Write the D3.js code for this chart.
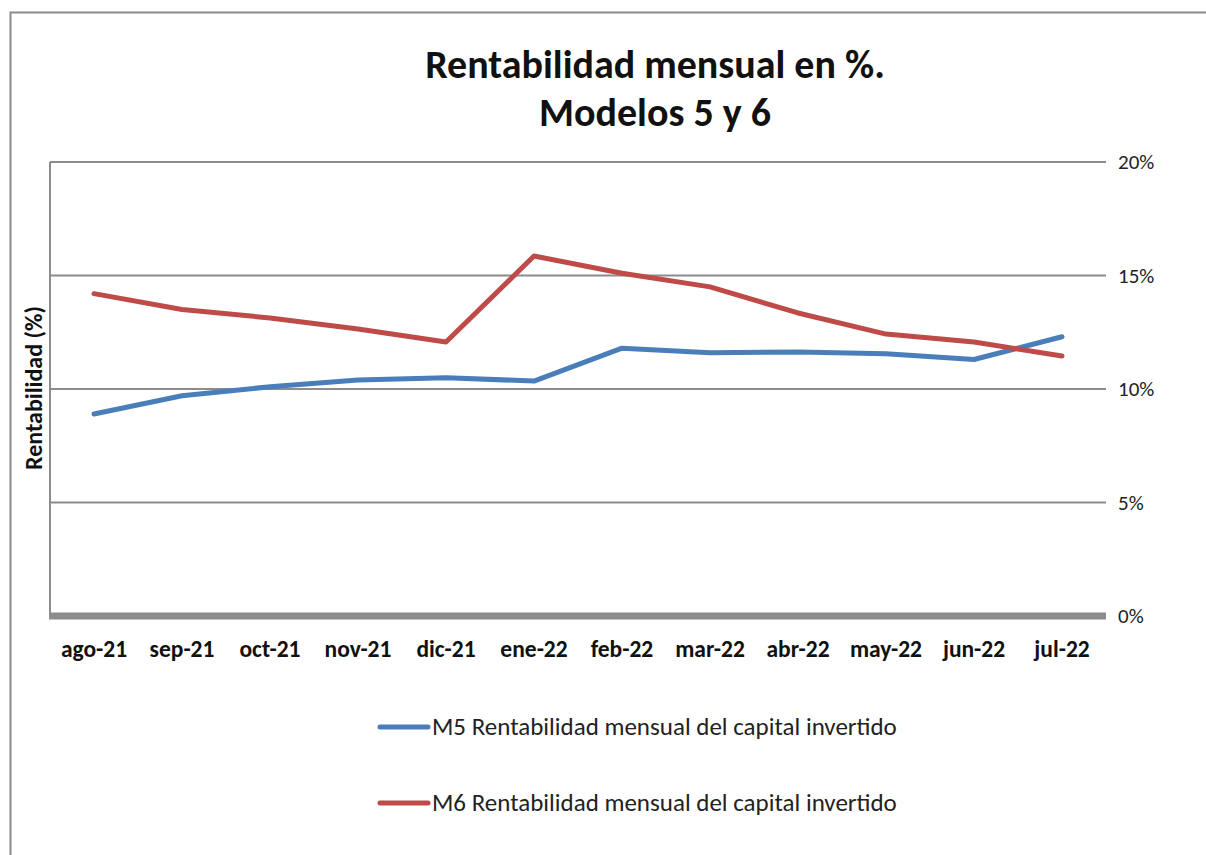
<!DOCTYPE html>
<html><head><meta charset="utf-8">
<script src="https://cdn.jsdelivr.net/npm/d3@7"></script>
<style>
html,body{margin:0;padding:0;background:#fff;}
svg{display:block;}
text{font-family:Carlito,Calibri,Lato,sans-serif;}
</style></head>
<body>
<svg id="chart" width="1206" height="855"></svg>
<script>
const categories = ["ago-21","sep-21","oct-21","nov-21","dic-21","ene-22","feb-22","mar-22","abr-22","may-22","jun-22","jul-22"];
const m5Values = [8.9, 9.7, 10.1, 10.4, 10.5, 10.35, 11.8, 11.6, 11.63, 11.55, 11.3, 12.3];
const m6Values = [14.2, 13.5, 13.13, 12.64, 12.07, 15.86, 15.1, 14.5, 13.35, 12.42, 12.07, 11.45];
const yTicks = [0, 5, 10, 15, 20];
const seriesNames = ["M5 Rentabilidad mensual del capital invertido", "M6 Rentabilidad mensual del capital invertido"];
const seriesColors = ["#4a7ebb", "#be4b48"];
const titleLines = ["Rentabilidad mensual en %.", "Modelos 5 y 6"];
const yAxisTitle = "Rentabilidad (%)";

const FONT = "Carlito,Calibri,Lato,sans-serif";
const svg = d3.select("#chart");
const L = 50, R = 1106, T = 162, B = 616;

// outer frame
svg.append("path").attr("d", "M10.5,860 L10.5,12.5 L1210,12.5").attr("fill","none").attr("stroke","#8c8c8c").attr("stroke-width",2);

const x = d3.scaleBand().domain(categories).range([L, R]);
const y = d3.scaleLinear().domain([0, 20]).range([B, T]);

// gridlines
svg.append("g").selectAll("line").data(yTicks.filter(d => d > 0)).join("line")
  .attr("x1", L).attr("x2", R).attr("y1", d => y(d)).attr("y2", d => y(d))
  .attr("stroke", "#8c8c8c").attr("stroke-width", 2);

// left plot edge
svg.append("line").attr("x1", L).attr("x2", L).attr("y1", T).attr("y2", B)
  .attr("stroke", "#8c8c8c").attr("stroke-width", 2);
// floor (thick)
svg.append("line").attr("x1", L - 1).attr("x2", R).attr("y1", B).attr("y2", B)
  .attr("stroke", "#8c8c8c").attr("stroke-width", 7);

// right y axis labels
const yAxis = d3.axisRight(y).tickValues(yTicks).tickFormat(d => d + "%").tickSize(0).tickPadding(12);
const ya = svg.append("g").attr("transform", `translate(${R},0)`).call(yAxis);
ya.select(".domain").remove();
ya.selectAll("text").attr("font-size", 21).attr("fill", "#222").style("font-family", FONT);

// x axis labels
const xAxis = d3.axisBottom(x).tickSize(0).tickPadding(24);
const xa = svg.append("g").attr("transform", `translate(0,${B})`).call(xAxis);
xa.select(".domain").remove();
xa.selectAll("text").attr("font-size", 23.5).attr("font-weight", "bold").attr("fill", "#111").style("font-family", FONT);

// lines
const line = d3.line().x((d, i) => x(categories[i]) + x.bandwidth() / 2).y(d => y(d));
[m5Values, m6Values].forEach((vals, k) => {
  svg.append("path").datum(vals).attr("d", line).attr("fill", "none")
    .attr("stroke", seriesColors[k]).attr("stroke-width", 5)
    .attr("stroke-linejoin", "round").attr("stroke-linecap", "round");
});

// title
svg.append("text").attr("text-anchor", "middle").attr("font-weight", "bold").attr("font-size", 40).attr("fill", "#111")
  .selectAll("tspan").data(titleLines).join("tspan").attr("x", 655).attr("y", (d, i) => 78 + i * 48).text(d => d);

// y axis title
svg.append("text").attr("transform", "translate(42,388) rotate(-90)").attr("text-anchor", "middle")
  .attr("font-weight", "bold").attr("font-size", 24).attr("fill", "#111").text(yAxisTitle);

// legend
const legY = [727, 803];
seriesNames.forEach((name, k) => {
  const g = svg.append("g");
  g.append("line").attr("x1", 380).attr("x2", 428).attr("y1", legY[k]).attr("y2", legY[k])
    .attr("stroke", seriesColors[k]).attr("stroke-width", 5).attr("stroke-linecap", "round");
  g.append("text").attr("x", 432).attr("y", legY[k] + 8).attr("font-size", 25).attr("fill", "#222").text(name);
});
</script>
</body></html>
